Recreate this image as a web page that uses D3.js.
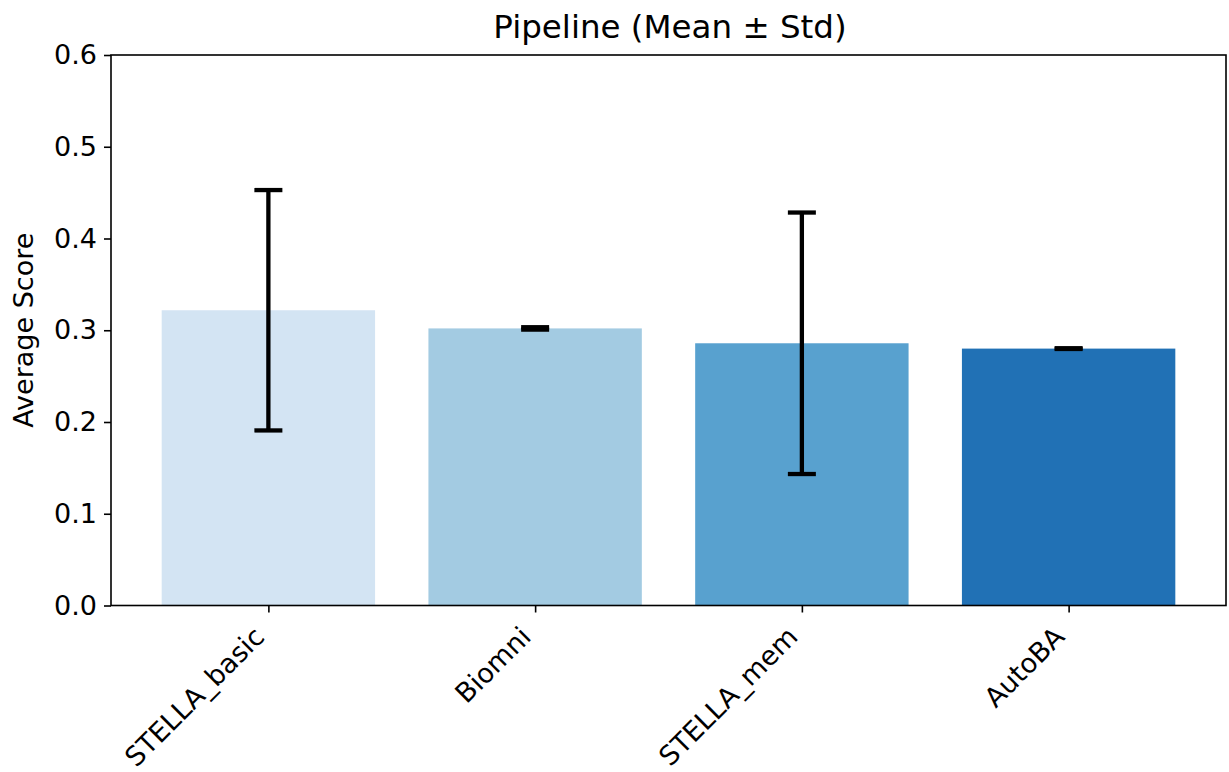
<!DOCTYPE html>
<html>
<head>
<meta charset="utf-8">
<script src="https://cdn.jsdelivr.net/npm/d3@7"></script>
<style>
  html, body { margin: 0; padding: 0; background: #fff; }
  text { font-family: "DejaVu Sans", sans-serif; fill: #000; }
</style>
</head>
<body>
<svg id="chart" width="1229" height="772"></svg>
<script>
const categories = ["STELLA_basic", "Biomni", "STELLA_mem", "AutoBA"];
const means = [0.3218, 0.302, 0.2858, 0.280];
const stds = [0.131, 0.0013, 0.1425, 0.0004];
const colors = ["#d3e4f3", "#a3cbe2", "#58a1cf", "#2171b5"];
const yTicks = [0.0, 0.1, 0.2, 0.3, 0.4, 0.5, 0.6];
const title = "Pipeline (Mean \u00b1 Std)";
const yLabel = "Average Score";

const svg = d3.select("#chart");
const mLeft = 111, mRight = 1226, mTop = 55, mBottom = 605.5;

const x = d3.scaleLinear().domain([-0.59, categories.length - 1 + 0.59]).range([mLeft, mRight]);
const y = d3.scaleLinear().domain([0, 0.6]).range([mBottom, mTop]);
const barW = x(0.8) - x(0);

// bars
svg.append("g").selectAll("rect").data(categories).join("rect")
  .attr("x", (d, i) => x(i) - barW / 2)
  .attr("y", (d, i) => y(means[i]))
  .attr("width", barW)
  .attr("height", (d, i) => y(0) - y(means[i]))
  .attr("fill", (d, i) => colors[i]);

// error bars
const eg = svg.append("g").attr("stroke", "#000").attr("stroke-width", 4.3);
categories.forEach((c, i) => {
  const cx = x(i);
  const lo = y(means[i] - stds[i]), hi = y(means[i] + stds[i]);
  eg.append("line").attr("x1", cx).attr("x2", cx).attr("y1", lo).attr("y2", hi);
  [lo, hi].forEach(yy => {
    eg.append("line").attr("x1", cx - 14).attr("x2", cx + 14).attr("y1", yy).attr("y2", yy);
  });
});

// y axis
const yAxis = d3.axisLeft(y).tickValues(yTicks).tickFormat(d3.format(".1f")).tickSize(7).tickPadding(7);
const yg = svg.append("g").attr("transform", `translate(${mLeft},0)`).call(yAxis);
yg.select(".domain").remove();
yg.selectAll(".tick line").attr("stroke", "#000").attr("stroke-width", 1.6);
yg.selectAll(".tick text").attr("font-size", 27).attr("font-family", "DejaVu Sans").attr("fill", "#000");

// x axis
const xAxis = d3.axisBottom(x).tickValues(d3.range(categories.length)).tickFormat(i => categories[i]).tickSize(7).tickPadding(7);
const xg = svg.append("g").attr("transform", `translate(0,${mBottom})`).call(xAxis);
xg.select(".domain").remove();
xg.selectAll(".tick line").attr("stroke", "#000").attr("stroke-width", 1.6);
xg.selectAll(".tick text")
  .attr("font-size", 27).attr("font-family", "DejaVu Sans").attr("fill", "#000")
  .attr("text-anchor", "end")
  .attr("dy", null).attr("y", null)
  .attr("transform", "translate(-3,33) rotate(-45)");

// spines
svg.append("rect").attr("x", mLeft).attr("y", mTop).attr("width", mRight - mLeft).attr("height", mBottom - mTop)
  .attr("fill", "none").attr("stroke", "#000").attr("stroke-width", 1.6);

// title
svg.append("text").attr("x", (mLeft + mRight) / 2 + 1.5).attr("y", 38).attr("text-anchor", "middle")
  .attr("font-size", 32.5).text(title);

// y label
svg.append("text").attr("transform", `translate(33,${(mTop + mBottom) / 2}) rotate(-90)`)
  .attr("text-anchor", "middle").attr("font-size", 27).text(yLabel);
</script>
</body>
</html>
